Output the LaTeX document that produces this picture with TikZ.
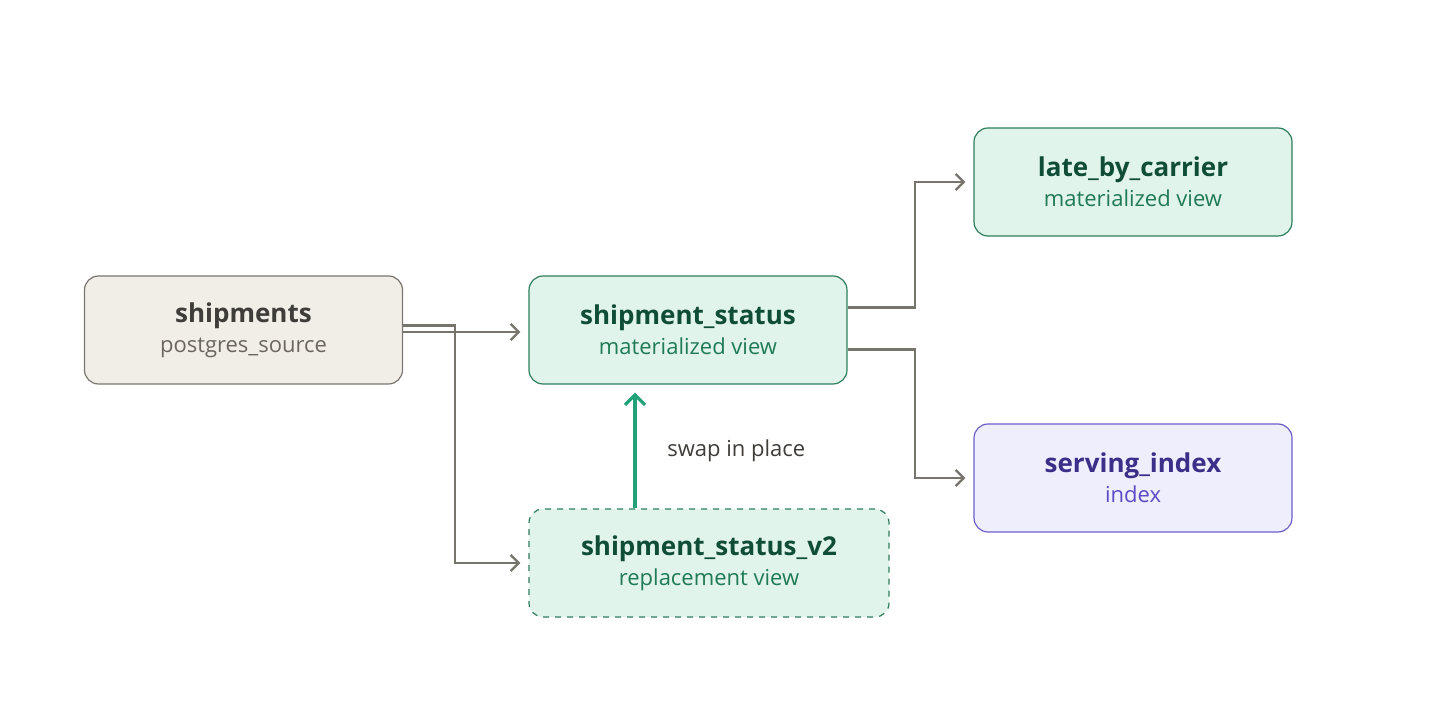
\documentclass[tikz,border=0pt]{standalone}
\usepackage{fontspec}
\setmainfont{Open Sans}
\usetikzlibrary{positioning,arrows.meta}
\definecolor{srcfill}{HTML}{F1EEE8}
\definecolor{srcline}{HTML}{7A756E}
\definecolor{srctext}{HTML}{3F3D3A}
\definecolor{srcsub}{HTML}{6B6760}
\definecolor{mvfill}{HTML}{E1F4EC}
\definecolor{mvline}{HTML}{2E7D5B}
\definecolor{mvtext}{HTML}{0F4D38}
\definecolor{mvsub}{HTML}{1F7A55}
\definecolor{ixfill}{HTML}{EEEEFC}
\definecolor{ixline}{HTML}{6E5FC7}
\definecolor{ixtext}{HTML}{3B2F8A}
\definecolor{ixsub}{HTML}{5B4BC4}
\definecolor{flow}{HTML}{77736D}
\definecolor{swap}{HTML}{22A078}
\tikzset{
  box/.style={draw, rounded corners=7pt, line width=0.6pt, minimum width=159pt,
    minimum height=54pt, align=center, font=\fontsize{11}{15}\selectfont},
  src/.style={box, fill=srcfill, draw=srcline, text=srctext},
  mview/.style={box, fill=mvfill, draw=mvline, text=mvtext},
  ixview/.style={box, fill=ixfill, draw=ixline, text=ixtext},
  flowline/.style={draw=flow, line width=1.2pt, -{Straight Barb[length=4pt,width=8pt]}},
}
\newcommand{\ttl}[1]{{\fontsize{13}{16}\selectfont\bfseries #1}}
\begin{document}
\begin{tikzpicture}[x=0.5pt,y=-0.5pt]
  \useasboundingbox (0,0) rectangle (1440,704);

  \node[src] (shipments) at (243.5,330) {\ttl{shipments}\\\textcolor{srcsub}{postgres\_source}};
  \node[mview] (status) at (688,330) {\ttl{shipment\_status}\\\textcolor{mvsub}{materialized view}};
  \node[mview] (late) at (1133,182) {\ttl{late\_by\_carrier}\\\textcolor{mvsub}{materialized view}};
  \node[ixview] (serving) at (1133,478) {\ttl{serving\_index}\\\textcolor{ixsub}{index}};
  \node[mview, dashed, minimum width=180pt] (v2) at (709,563)
    {\ttl{shipment\_status\_v2}\\\textcolor{mvsub}{replacement view}};

  \draw[flowline] ([yshift=-1pt]shipments.east) -- ([yshift=-1pt,xshift=-4pt]status.west);
  \draw[flowline] ([yshift=-25pt]shipments.north east) -| (455,563) -- ([xshift=-4pt]v2.west);
  \draw[flowline] ([yshift=-16pt]status.north east) -| (915,182) -- ([xshift=-4pt]late.west);
  \draw[flowline] ([yshift=-37pt]status.north east) -| (915,478) -- ([xshift=-4pt]serving.west);

  \draw[draw=swap, line width=1.6pt, -{Straight Barb[length=5pt,width=10pt]}]
    (v2.north -| 635,0) -- ([yshift=-4pt]status.south -| 635,0)
    node[midway, right=12pt, text=srctext, font=\fontsize{11}{13}\selectfont] (swaplabel) {swap in place};
\end{tikzpicture}
\end{document}
